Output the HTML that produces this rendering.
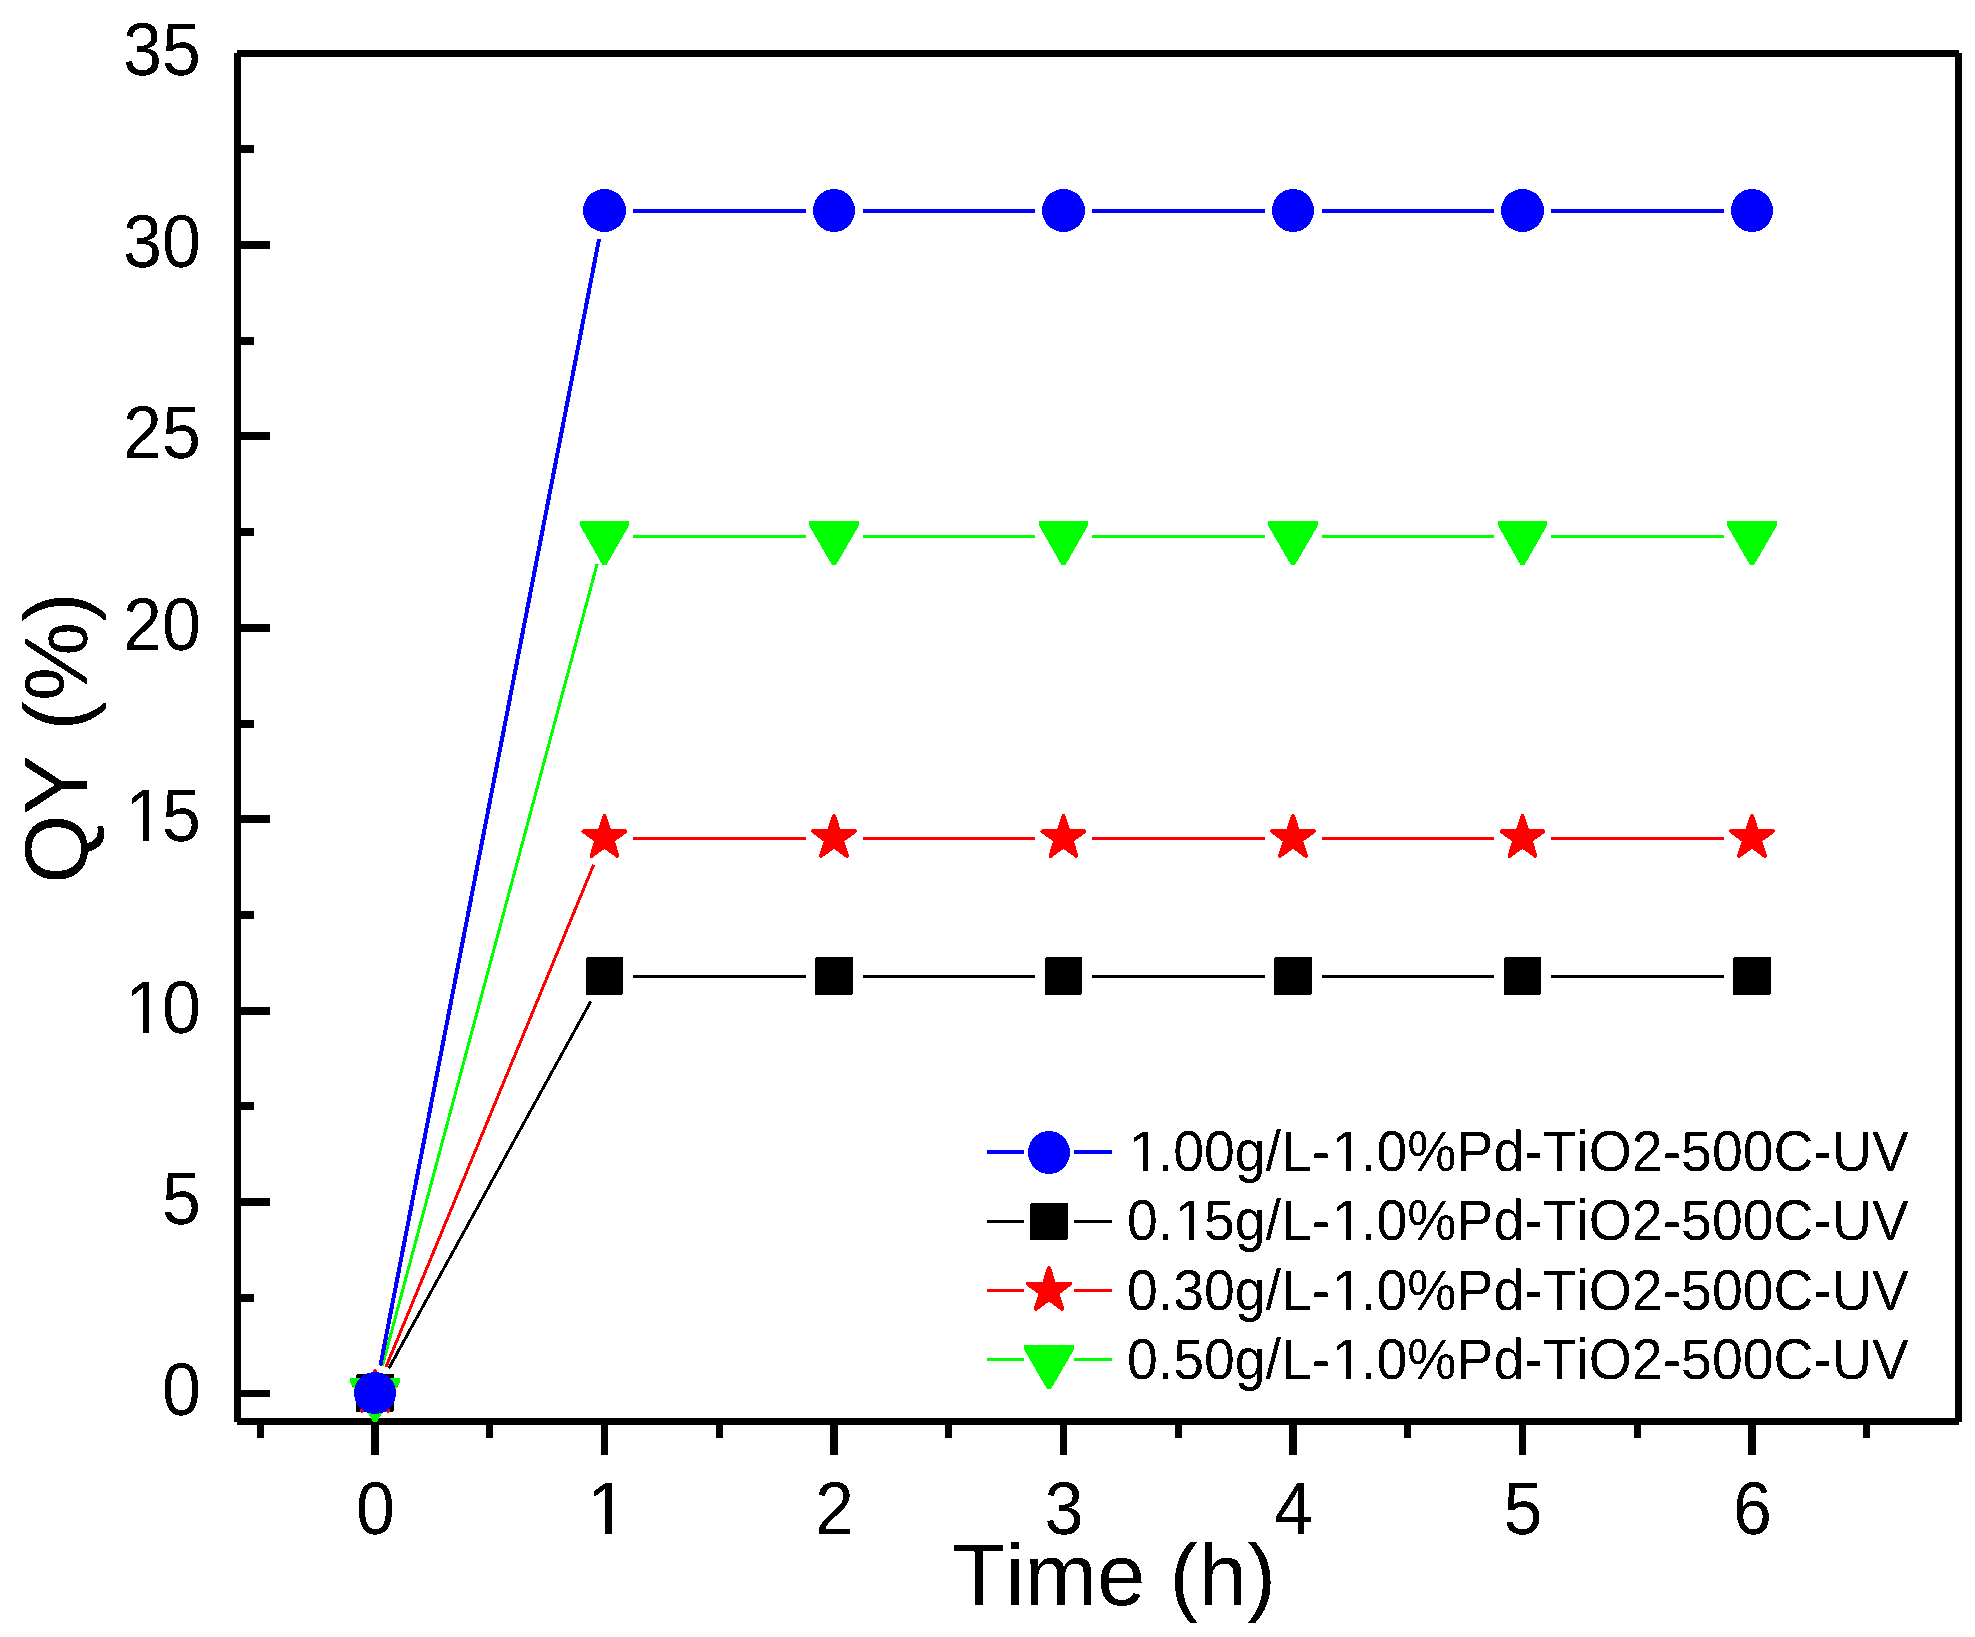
<!DOCTYPE html>
<html lang="en"><head><meta charset="utf-8"><title>QY (%) vs Time (h)</title>
<style>html,body{margin:0;padding:0;background:#fff;}body{width:1975px;height:1637px;overflow:hidden;}svg{display:block;}text{font-family:"Liberation Sans",sans-serif;fill:#000;font-kerning:none;font-variant-ligatures:none;text-rendering:geometricPrecision;}</style>
</head><body>
<svg width="1975" height="1637" viewBox="0 0 1975 1637">
<rect x="0" y="0" width="1975" height="1637" fill="#fff"/>
<defs><filter id="bw" x="0" y="0" width="1975" height="1637" filterUnits="userSpaceOnUse" color-interpolation-filters="sRGB"><feComponentTransfer><feFuncR type="discrete" tableValues="0 1"/><feFuncG type="discrete" tableValues="0 1"/><feFuncB type="discrete" tableValues="0 1"/><feFuncA type="discrete" tableValues="0 1"/></feComponentTransfer></filter></defs>
<g shape-rendering="crispEdges" fill="#000" stroke="none">
<rect x="234" y="53" width="7" height="1369"/>
<rect x="1955" y="53" width="7" height="1369"/>
<rect x="237" y="50" width="1722" height="7"/>
<rect x="237" y="1418" width="1722" height="7"/>
<rect x="241" y="1390" width="29" height="7"/>
<rect x="241" y="1294" width="13" height="8"/>
<rect x="241" y="1198" width="29" height="8"/>
<rect x="241" y="1102" width="13" height="8"/>
<rect x="241" y="1007" width="29" height="8"/>
<rect x="241" y="911" width="13" height="8"/>
<rect x="241" y="815" width="29" height="8"/>
<rect x="241" y="720" width="13" height="8"/>
<rect x="241" y="624" width="29" height="8"/>
<rect x="241" y="528" width="13" height="8"/>
<rect x="241" y="432" width="29" height="8"/>
<rect x="241" y="337" width="13" height="8"/>
<rect x="241" y="241" width="29" height="8"/>
<rect x="241" y="145" width="13" height="8"/>
<rect x="257" y="1425" width="7" height="13"/>
<rect x="371" y="1425" width="8" height="30"/>
<rect x="486" y="1425" width="7" height="13"/>
<rect x="601" y="1425" width="7" height="30"/>
<rect x="716" y="1425" width="7" height="13"/>
<rect x="830" y="1425" width="8" height="30"/>
<rect x="945" y="1425" width="7" height="13"/>
<rect x="1060" y="1425" width="7" height="30"/>
<rect x="1175" y="1425" width="7" height="13"/>
<rect x="1289" y="1425" width="8" height="30"/>
<rect x="1404" y="1425" width="7" height="13"/>
<rect x="1519" y="1425" width="7" height="30"/>
<rect x="1634" y="1425" width="7" height="13"/>
<rect x="1748" y="1425" width="8" height="30"/>
<rect x="1863" y="1425" width="7" height="13"/>
</g>
<g fill="none" shape-rendering="crispEdges">
<line x1="388.74" y1="1368.53" x2="590.76" y2="1001.47" stroke="#000000" stroke-width="3"/>
<line x1="633.00" y1="976.50" x2="805.50" y2="976.50" stroke="#000000" stroke-width="3"/>
<line x1="862.50" y1="976.50" x2="1035.00" y2="976.50" stroke="#000000" stroke-width="3"/>
<line x1="1092.00" y1="976.50" x2="1264.50" y2="976.50" stroke="#000000" stroke-width="3"/>
<line x1="1321.50" y1="976.50" x2="1494.00" y2="976.50" stroke="#000000" stroke-width="3"/>
<line x1="1551.00" y1="976.50" x2="1723.50" y2="976.50" stroke="#000000" stroke-width="3"/>
<line x1="385.89" y1="1367.16" x2="593.61" y2="864.84" stroke="#ff0000" stroke-width="3"/>
<line x1="633.00" y1="838.50" x2="805.50" y2="838.50" stroke="#ff0000" stroke-width="3"/>
<line x1="862.50" y1="838.50" x2="1035.00" y2="838.50" stroke="#ff0000" stroke-width="3"/>
<line x1="1092.00" y1="838.50" x2="1264.50" y2="838.50" stroke="#ff0000" stroke-width="3"/>
<line x1="1321.50" y1="838.50" x2="1494.00" y2="838.50" stroke="#ff0000" stroke-width="3"/>
<line x1="1551.00" y1="838.50" x2="1723.50" y2="838.50" stroke="#ff0000" stroke-width="3"/>
<line x1="382.37" y1="1365.97" x2="597.13" y2="564.03" stroke="#00ff00" stroke-width="3"/>
<line x1="633.00" y1="536.50" x2="805.50" y2="536.50" stroke="#00ff00" stroke-width="3"/>
<line x1="862.50" y1="536.50" x2="1035.00" y2="536.50" stroke="#00ff00" stroke-width="3"/>
<line x1="1092.00" y1="536.50" x2="1264.50" y2="536.50" stroke="#00ff00" stroke-width="3"/>
<line x1="1321.50" y1="536.50" x2="1494.00" y2="536.50" stroke="#00ff00" stroke-width="3"/>
<line x1="1551.00" y1="536.50" x2="1723.50" y2="536.50" stroke="#00ff00" stroke-width="3"/>
<line x1="380.43" y1="1365.52" x2="599.07" y2="238.98" stroke="#0000ff" stroke-width="4"/>
<line x1="633.00" y1="211.00" x2="805.50" y2="211.00" stroke="#0000ff" stroke-width="4"/>
<line x1="862.50" y1="211.00" x2="1035.00" y2="211.00" stroke="#0000ff" stroke-width="4"/>
<line x1="1092.00" y1="211.00" x2="1264.50" y2="211.00" stroke="#0000ff" stroke-width="4"/>
<line x1="1321.50" y1="211.00" x2="1494.00" y2="211.00" stroke="#0000ff" stroke-width="4"/>
<line x1="1551.00" y1="211.00" x2="1723.50" y2="211.00" stroke="#0000ff" stroke-width="4"/>
</g>
<g shape-rendering="crispEdges">
<rect x="358.00" y="1376.00" width="34" height="34" fill="#000000" stroke="#000000" stroke-width="4" stroke-linejoin="round"/>
<rect x="588.00" y="959.00" width="33" height="34" fill="#000000" stroke="#000000" stroke-width="4" stroke-linejoin="round"/>
<rect x="817.00" y="959.00" width="34" height="34" fill="#000000" stroke="#000000" stroke-width="4" stroke-linejoin="round"/>
<rect x="1047.00" y="959.00" width="33" height="34" fill="#000000" stroke="#000000" stroke-width="4" stroke-linejoin="round"/>
<rect x="1276.00" y="959.00" width="34" height="34" fill="#000000" stroke="#000000" stroke-width="4" stroke-linejoin="round"/>
<rect x="1506.00" y="959.00" width="33" height="34" fill="#000000" stroke="#000000" stroke-width="4" stroke-linejoin="round"/>
<rect x="1735.00" y="959.00" width="34" height="34" fill="#000000" stroke="#000000" stroke-width="4" stroke-linejoin="round"/>
<polygon points="375.00,1371.00 379.94,1386.20 395.92,1386.20 382.99,1395.60 387.93,1410.80 375.00,1401.40 362.07,1410.80 367.01,1395.60 354.08,1386.20 370.06,1386.20" fill="#ff0000" stroke="#ff0000" stroke-width="4" stroke-linejoin="round"/>
<polygon points="604.50,816.00 609.44,831.20 625.42,831.20 612.49,840.60 617.43,855.80 604.50,846.40 591.57,855.80 596.51,840.60 583.58,831.20 599.56,831.20" fill="#ff0000" stroke="#ff0000" stroke-width="4" stroke-linejoin="round"/>
<polygon points="834.00,816.00 838.94,831.20 854.92,831.20 841.99,840.60 846.93,855.80 834.00,846.40 821.07,855.80 826.01,840.60 813.08,831.20 829.06,831.20" fill="#ff0000" stroke="#ff0000" stroke-width="4" stroke-linejoin="round"/>
<polygon points="1063.50,816.00 1068.44,831.20 1084.42,831.20 1071.49,840.60 1076.43,855.80 1063.50,846.40 1050.57,855.80 1055.51,840.60 1042.58,831.20 1058.56,831.20" fill="#ff0000" stroke="#ff0000" stroke-width="4" stroke-linejoin="round"/>
<polygon points="1293.00,816.00 1297.94,831.20 1313.92,831.20 1300.99,840.60 1305.93,855.80 1293.00,846.40 1280.07,855.80 1285.01,840.60 1272.08,831.20 1288.06,831.20" fill="#ff0000" stroke="#ff0000" stroke-width="4" stroke-linejoin="round"/>
<polygon points="1522.50,816.00 1527.44,831.20 1543.42,831.20 1530.49,840.60 1535.43,855.80 1522.50,846.40 1509.57,855.80 1514.51,840.60 1501.58,831.20 1517.56,831.20" fill="#ff0000" stroke="#ff0000" stroke-width="4" stroke-linejoin="round"/>
<polygon points="1752.00,816.00 1756.94,831.20 1772.92,831.20 1759.99,840.60 1764.93,855.80 1752.00,846.40 1739.07,855.80 1744.01,840.60 1731.08,831.20 1747.06,831.20" fill="#ff0000" stroke="#ff0000" stroke-width="4" stroke-linejoin="round"/>
<polygon points="350.00,1377.70 400.00,1377.70 400.00,1382.10 377.00,1421.70 373.00,1421.70 350.00,1382.10" fill="#00ff00"/>
<polygon points="580.00,521.00 629.00,521.00 629.00,525.40 606.50,565.00 602.50,565.00 580.00,525.40" fill="#00ff00"/>
<polygon points="809.00,521.00 859.00,521.00 859.00,525.40 836.00,565.00 832.00,565.00 809.00,525.40" fill="#00ff00"/>
<polygon points="1039.00,521.00 1088.00,521.00 1088.00,525.40 1065.50,565.00 1061.50,565.00 1039.00,525.40" fill="#00ff00"/>
<polygon points="1268.00,521.00 1318.00,521.00 1318.00,525.40 1295.00,565.00 1291.00,565.00 1268.00,525.40" fill="#00ff00"/>
<polygon points="1498.00,521.00 1547.00,521.00 1547.00,525.40 1524.50,565.00 1520.50,565.00 1498.00,525.40" fill="#00ff00"/>
<polygon points="1727.00,521.00 1777.00,521.00 1777.00,525.40 1754.00,565.00 1750.00,565.00 1727.00,525.40" fill="#00ff00"/>
<ellipse cx="375.00" cy="1393.00" rx="21.00" ry="21.00" fill="#0000ff"/>
<ellipse cx="604.50" cy="210.50" rx="21.50" ry="21.50" fill="#0000ff"/>
<ellipse cx="834.00" cy="210.50" rx="21.00" ry="21.50" fill="#0000ff"/>
<ellipse cx="1063.50" cy="210.50" rx="21.50" ry="21.50" fill="#0000ff"/>
<ellipse cx="1293.00" cy="210.50" rx="21.00" ry="21.50" fill="#0000ff"/>
<ellipse cx="1522.50" cy="210.50" rx="21.50" ry="21.50" fill="#0000ff"/>
<ellipse cx="1752.00" cy="210.50" rx="21.00" ry="21.50" fill="#0000ff"/>
</g>
<g shape-rendering="crispEdges">
<line x1="987" y1="1152.0" x2="1024" y2="1152.0" stroke="#0000ff" stroke-width="4"/>
<line x1="1074" y1="1152.0" x2="1112" y2="1152.0" stroke="#0000ff" stroke-width="4"/>
<ellipse cx="1049.00" cy="1152.50" rx="21.00" ry="21.50" fill="#0000ff"/>
<line x1="987" y1="1221.5" x2="1024" y2="1221.5" stroke="#000000" stroke-width="3"/>
<line x1="1074" y1="1221.5" x2="1112" y2="1221.5" stroke="#000000" stroke-width="3"/>
<rect x="1032.00" y="1205.00" width="34" height="33" fill="#000000" stroke="#000000" stroke-width="4" stroke-linejoin="round"/>
<line x1="987" y1="1290.5" x2="1024" y2="1290.5" stroke="#ff0000" stroke-width="3"/>
<line x1="1074" y1="1290.5" x2="1112" y2="1290.5" stroke="#ff0000" stroke-width="3"/>
<polygon points="1049.00,1268.10 1054.05,1283.65 1070.40,1283.65 1057.17,1293.26 1062.23,1308.80 1049.00,1299.19 1035.77,1308.80 1040.83,1293.26 1027.60,1283.65 1043.95,1283.65" fill="#ff0000" stroke="#ff0000" stroke-width="4" stroke-linejoin="round"/>
<line x1="987" y1="1359.5" x2="1024" y2="1359.5" stroke="#00ff00" stroke-width="3"/>
<line x1="1074" y1="1359.5" x2="1112" y2="1359.5" stroke="#00ff00" stroke-width="3"/>
<polygon points="1024.00,1345.00 1074.00,1345.00 1074.00,1349.40 1051.00,1389.00 1047.00,1389.00 1024.00,1349.40" fill="#00ff00"/>
</g>
<g filter="url(#bw)">
<g transform="translate(201,1415.3) scale(0.93478,1)"><text font-size="74.91" x="-41.66">0</text></g>
<g transform="translate(201,1223.9) scale(0.93478,1)"><text font-size="74.91" x="-41.66">5</text></g>
<g transform="translate(201,1032.5) scale(0.93478,1)"><text font-size="74.91" x="-80.87 -41.66">10</text><rect x="-77.58" y="-7.00" width="15.45" height="8.00" fill="#fff"/><rect x="-55.32" y="-7.00" width="13.50" height="8.00" fill="#fff"/></g>
<g transform="translate(201,841.0) scale(0.93478,1)"><text font-size="74.91" x="-80.87 -41.66">15</text><rect x="-77.58" y="-7.00" width="15.45" height="8.00" fill="#fff"/><rect x="-55.32" y="-7.00" width="13.50" height="8.00" fill="#fff"/></g>
<g transform="translate(201,649.6) scale(0.93478,1)"><text font-size="74.91" x="-83.33 -41.66">20</text></g>
<g transform="translate(201,458.2) scale(0.93478,1)"><text font-size="74.91" x="-83.33 -41.66">25</text></g>
<g transform="translate(201,266.8) scale(0.93478,1)"><text font-size="74.91" x="-83.33 -41.66">30</text></g>
<g transform="translate(201,75.4) scale(0.93478,1)"><text font-size="74.91" x="-83.33 -41.66">35</text></g>
<g transform="translate(375.5,1533.6) scale(0.93478,1)"><text font-size="74.91" x="-20.83">0</text></g>
<g transform="translate(605.0,1533.6) scale(0.93478,1)"><text font-size="74.91" x="-18.38">1</text><rect x="-15.09" y="-7.00" width="15.45" height="8.00" fill="#fff"/><rect x="7.18" y="-7.00" width="13.50" height="8.00" fill="#fff"/></g>
<g transform="translate(834.5,1533.6) scale(0.93478,1)"><text font-size="74.91" x="-20.83">2</text></g>
<g transform="translate(1064.0,1533.6) scale(0.93478,1)"><text font-size="74.91" x="-20.83">3</text></g>
<g transform="translate(1293.5,1533.6) scale(0.93478,1)"><text font-size="74.91" x="-20.83">4</text></g>
<g transform="translate(1523.0,1533.6) scale(0.93478,1)"><text font-size="74.91" x="-20.83">5</text></g>
<g transform="translate(1752.5,1533.6) scale(0.93478,1)"><text font-size="74.91" x="-20.83">6</text></g>
<g transform="translate(1114,1604.8) scale(0.99206,1)"><text font-size="87.70" x="-163.21 -109.64 -90.16 -17.11 31.67 56.03 85.23 134.01">Time (h)</text></g>
<g transform="translate(87.2,738) rotate(-90) scale(0.99223,1)"><text font-size="89.61" x="-146.86 -77.16 -17.39 7.50 37.34 117.02">QY (%)</text></g>
<g transform="translate(1127,1170.5) scale(0.96206,1)"><text font-size="57.57" x="1.88 32.02 48.01 80.03 112.04 144.06 160.05 192.07 213.13 243.26 259.25 291.27 342.46 380.85 412.87 432.04 467.21 480.00 524.77 556.79 575.96 607.98 639.99 672.01 713.58 732.76 774.33">1.00g/L-1.0%Pd-TiO2-500C-UV</text><rect x="4.41" y="-5.70" width="11.85" height="6.70" fill="#fff"/><rect x="21.55" y="-5.70" width="10.37" height="6.70" fill="#fff"/><rect x="215.66" y="-5.70" width="11.85" height="6.70" fill="#fff"/><rect x="232.79" y="-5.70" width="10.37" height="6.70" fill="#fff"/></g>
<g transform="translate(1127,1239.5) scale(0.96206,1)"><text font-size="57.57" x="0.00 32.02 49.89 80.03 112.04 144.06 160.05 192.07 213.13 243.26 259.25 291.27 342.46 380.85 412.87 432.04 467.21 480.00 524.77 556.79 575.96 607.98 639.99 672.01 713.58 732.76 774.33">0.15g/L-1.0%Pd-TiO2-500C-UV</text><rect x="52.42" y="-5.70" width="11.85" height="6.70" fill="#fff"/><rect x="69.56" y="-5.70" width="10.37" height="6.70" fill="#fff"/><rect x="215.66" y="-5.70" width="11.85" height="6.70" fill="#fff"/><rect x="232.79" y="-5.70" width="10.37" height="6.70" fill="#fff"/></g>
<g transform="translate(1127,1310.0) scale(0.96206,1)"><text font-size="57.57" x="0.00 32.02 48.01 80.03 112.04 144.06 160.05 192.07 213.13 243.26 259.25 291.27 342.46 380.85 412.87 432.04 467.21 480.00 524.77 556.79 575.96 607.98 639.99 672.01 713.58 732.76 774.33">0.30g/L-1.0%Pd-TiO2-500C-UV</text><rect x="215.66" y="-5.70" width="11.85" height="6.70" fill="#fff"/><rect x="232.79" y="-5.70" width="10.37" height="6.70" fill="#fff"/></g>
<g transform="translate(1127,1379.1) scale(0.96206,1)"><text font-size="57.57" x="0.00 32.02 48.01 80.03 112.04 144.06 160.05 192.07 213.13 243.26 259.25 291.27 342.46 380.85 412.87 432.04 467.21 480.00 524.77 556.79 575.96 607.98 639.99 672.01 713.58 732.76 774.33">0.50g/L-1.0%Pd-TiO2-500C-UV</text><rect x="215.66" y="-5.70" width="11.85" height="6.70" fill="#fff"/><rect x="232.79" y="-5.70" width="10.37" height="6.70" fill="#fff"/></g>
</g>
</svg></body></html>
